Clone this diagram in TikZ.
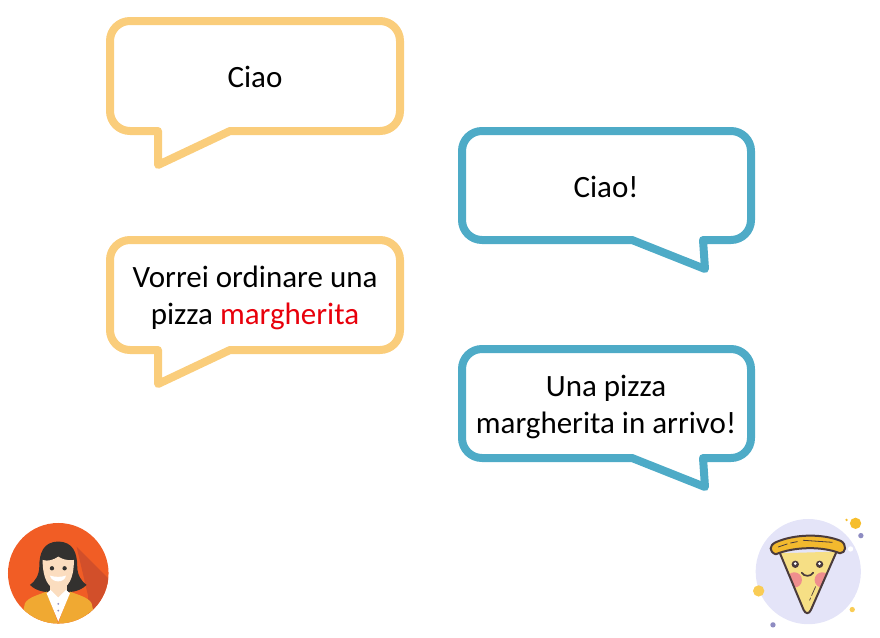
\documentclass[tikz,border=0pt]{standalone}
\usepackage{fontspec}
\setmainfont{Carlito}
\definecolor{sandbubble}{HTML}{FACD7B}
\definecolor{tealbubble}{HTML}{4EABC7}
\definecolor{redword}{HTML}{E8000B}
\definecolor{orangedisc}{HTML}{F15D25}
\definecolor{orangeshade}{HTML}{D24F2A}
\definecolor{hairdark}{HTML}{33312F}
\definecolor{skin}{HTML}{FBDDBF}
\definecolor{jacket}{HTML}{F0A932}
\definecolor{lilacdisc}{HTML}{E4E4F8}
\definecolor{crust}{HTML}{F2B92E}
\definecolor{cheese}{HTML}{F6DF85}
\definecolor{slicedark}{HTML}{4A3B3C}
\definecolor{cheek}{HTML}{EF8E8E}
\definecolor{dotyellow}{HTML}{F6BE2C}
\definecolor{dotlight}{HTML}{F9CC55}
\definecolor{dotlilac}{HTML}{8E8CC2}
\tikzset{
    bubble/.style={line width=8pt, line join=round, line cap=round},
    saying/.style={font=\fontsize{31}{37}\selectfont, align=center, inner sep=0pt}
}
\def\leftbubble{(158,131) -- (158,165) -- (230,131) [rounded corners=20pt] -- (400,131) -- (400,21) -- (110,21) -- (110,131) [sharp corners] -- cycle}
\def\rightbubble{(703,131) -- (705,160) -- (632,131) [rounded corners=20pt] -- (462,131) -- (462,22) -- (751,22) -- (751,131) [sharp corners] -- cycle}

\begin{document}
\begin{tikzpicture}[x=1pt,y=-1pt]
    \useasboundingbox (0,0) rectangle (880,637);

    %% The speech bubbles
    \draw[bubble, sandbubble] \leftbubble;
    \draw[bubble, sandbubble, yshift=-219pt] \leftbubble;
    \draw[bubble, tealbubble, yshift=-109pt] \rightbubble;
    \draw[bubble, tealbubble, yshift=-327pt] \rightbubble;

    %% What they say
    \draw (255,77) node [saying] (firstciao) {Ciao};
    \draw (606,187) node [saying] (secondciao) {Ciao!};
    \draw (255,298) node [saying] (order) {Vorrei ordinare una\\pizza \textcolor{redword}{margherita}};
    \draw (606,407) node [saying] (reply) {Una pizza\\margherita in arrivo!};

    %% The customer
    \begin{scope}[shift={(0,510)}, x=0.333pt, y=-0.333pt]
        \fill[orangedisc] (175,190) circle (151);
        \begin{scope}
            \clip (175,190) circle (151);
            \fill[orangeshade] (230,110) -- (340,220) -- (340,340) -- (265,340) -- (265,260) -- cycle;
            \fill[hairdark] (175,95) .. controls (130,95) and (118,130) .. (118,170) .. controls (118,195) and (105,215) .. (90,225) .. controls (110,245) and (140,250) .. (175,245) .. controls (210,250) and (240,245) .. (260,225) .. controls (245,215) and (232,195) .. (232,170) .. controls (232,130) and (220,95) .. (175,95) -- cycle;
            \fill[skin] (150,205) rectangle (200,265);
            \fill[jacket] (60,345) -- (75,280) .. controls (85,262) and (115,255) .. (140,245) -- (175,340) -- (210,245) .. controls (235,255) and (265,262) .. (275,280) -- (290,345) -- cycle;
            \fill[white] (140,250) -- (152,240) -- (175,262) -- (198,240) -- (210,250) -- (175,335) -- cycle;
            \fill[skin] (152,238) -- (198,238) -- (175,262) -- cycle;
        \end{scope}
        \fill[skin] (175,140) .. controls (200,155) and (215,150) .. (222,150) .. controls (222,205) and (205,238) .. (175,238) .. controls (145,238) and (128,205) .. (128,150) .. controls (145,155) and (160,150) .. (175,140) -- cycle;
        \fill[hairdark] (156,175) circle (6.5);
        \fill[hairdark] (194,175) circle (6.5);
        \fill[white] (150,197) .. controls (165,202) and (185,202) .. (198,197) .. controls (195,220) and (155,220) .. (150,197) -- cycle;
        \fill[dotlilac] (175,282) circle (3);
        \fill[dotlilac] (175,302) circle (3);
    \end{scope}

    %% The pizza
    \begin{scope}[shift={(745,505)}, x=0.333pt, y=-0.333pt]
        \fill[lilacdisc] (190,200) circle (158);
        \fill[white] (317,132) circle (8);
        \fill[dotyellow] (332,55) circle (17);
        \fill[dotyellow] (305,45) circle (4);
        \fill[dotlilac] (348,92) circle (8);
        \fill[dotlight] (41,258) circle (17);
        \fill[dotlight] (322,314) circle (8);
        \fill[dotlilac] (84,360) circle (8);
        \begin{scope}
            \clip (105,145) -- (176,315) .. controls (182,328) and (192,328) .. (198,315) -- (275,140) -- cycle;
            \fill[cheese] (95,130) rectangle (285,330);
            \fill[cheek] (148,225) circle (23);
            \fill[cheek] (232,225) circle (23);
        \end{scope}
        \draw[slicedark, line width=2pt, line join=round] (105,145) -- (176,315) .. controls (182,328) and (192,328) .. (198,315) -- (275,140);
        \draw[slicedark, line width=2pt, fill=crust, line join=round] (92,148) .. controls (72,140) and (72,122) .. (92,112) .. controls (150,86) and (235,86) .. (288,108) .. controls (306,118) and (304,145) .. (285,145) .. controls (235,124) and (150,124) .. (92,148) -- cycle;
        \draw[slicedark, line width=0.8pt, line cap=round] (100,126) -- (127,117) (137,114) -- (157,110) (175,106) -- (262,112);
        \fill[slicedark] (151,178) circle (11);
        \fill[slicedark] (224,178) circle (11);
        \fill[white] (151,176) circle (4.5);
        \fill[white] (224,176) circle (4.5);
        \draw[slicedark, line width=1.7pt, line cap=round] (170,203) .. controls (178,216) and (197,216) .. (205,203);
        \draw[slicedark, line width=0.7pt, line cap=round] (212,245) -- (200,272) (197,279) -- (194,286);
    \end{scope}
\end{tikzpicture}
\end{document}
